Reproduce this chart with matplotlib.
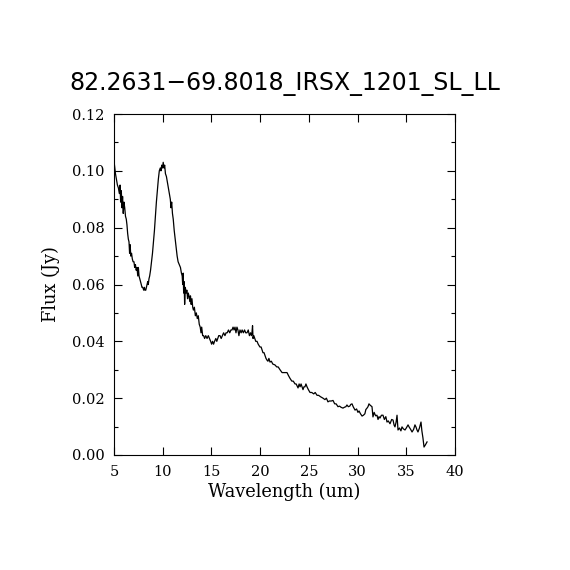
import matplotlib
matplotlib.use("Agg")
import matplotlib.pyplot as plt
from matplotlib.ticker import MultipleLocator

title = "82.2631\u221269.8018_IRSX_1201_SL_LL"
xlabel = "Wavelength (um)"
ylabel = "Flux (Jy)"

wavelength = [
    5.05, 5.15, 5.25, 5.35, 5.45, 5.55, 5.62, 5.68, 5.75, 5.82, 5.88, 5.95, 6.02, 6.10, 6.18,
    6.26, 6.33, 6.40, 6.47, 6.54, 6.60, 6.66, 6.72, 6.80, 6.88, 6.96, 7.05, 7.12, 7.20, 7.28,
    7.36, 7.44, 7.50, 7.57, 7.65, 7.72, 7.80, 7.87, 7.95, 8.05, 8.12, 8.18, 8.26, 8.33, 8.39,
    8.46, 8.52, 8.59, 8.66, 8.75, 8.85, 8.95, 9.05, 9.15, 9.25, 9.35, 9.45, 9.55, 9.65, 9.75,
    9.82, 9.90, 9.98, 10.05, 10.13, 10.20, 10.28, 10.38, 10.48, 10.58, 10.68, 10.78, 10.85,
    10.92, 11.00, 11.08, 11.18, 11.28, 11.38, 11.48, 11.58, 11.70, 11.82, 11.92, 12.00, 12.05,
    12.10, 12.15, 12.20, 12.25, 12.32, 12.40, 12.48, 12.55, 12.62, 12.70, 12.78, 12.85, 12.92,
    13.00, 13.08, 13.15, 13.25, 13.35, 13.45, 13.55, 13.65, 13.75, 13.85, 13.93, 14.00, 14.10,
    14.20, 14.30, 14.42, 14.55, 14.68, 14.80, 14.92, 15.02, 15.12, 15.22, 15.32, 15.45, 15.55,
    15.65, 15.75, 15.88, 16.00, 16.12, 16.25, 16.39, 16.50, 16.62, 16.75, 16.88, 17.00, 17.11,
    17.22, 17.32, 17.42, 17.52, 17.62, 17.72, 17.82, 17.93, 18.05, 18.15, 18.28, 18.40, 18.52,
    18.65, 18.78, 18.90, 19.02, 19.10, 19.16, 19.22, 19.27, 19.35, 19.45, 19.55, 19.68, 19.80,
    19.98, 20.10, 20.20, 20.29, 20.40, 20.50, 20.60, 20.70, 20.80, 20.90, 21.01, 21.15, 21.30,
    21.52, 21.70, 21.85, 22.04, 22.25, 22.45, 22.60, 22.76, 22.90, 23.06, 23.25, 23.40, 23.58,
    23.70, 23.89, 24.00, 24.10, 24.20, 24.30, 24.40, 24.50, 24.60, 24.70, 24.81, 24.95, 25.12,
    25.30, 25.50, 25.65, 25.84, 26.00, 26.20, 26.45, 26.65, 26.80, 26.96, 27.10, 27.30, 27.48,
    27.65, 27.80, 27.99, 28.15, 28.30, 28.50, 28.65, 28.80, 28.91, 29.05, 29.20, 29.30, 29.43,
    29.55, 29.74, 29.90, 30.04, 30.15, 30.30, 30.46, 30.60, 30.75, 30.85, 30.97, 31.07, 31.17,
    31.30, 31.48, 31.58, 31.70, 31.85, 31.99, 32.10, 32.20, 32.30, 32.45, 32.61, 32.75, 32.90,
    33.02, 33.15, 33.33, 33.50, 33.64, 33.75, 33.84, 33.95, 34.05, 34.15, 34.30, 34.45, 34.56,
    34.70, 34.87, 35.00, 35.18, 35.30, 35.45, 35.59, 35.75, 35.89, 36.00, 36.10, 36.20, 36.35,
    36.51, 36.60, 36.71, 36.82, 36.95, 37.13,
]

flux = [
    0.102, 0.099, 0.097, 0.095, 0.094, 0.092, 0.095, 0.089, 0.093, 0.087, 0.091, 0.085, 0.089, 0.087, 0.084,
    0.083, 0.081, 0.078, 0.076, 0.075, 0.071, 0.074, 0.070, 0.071, 0.069, 0.068, 0.068, 0.066, 0.067, 0.065,
    0.066, 0.063, 0.066, 0.063, 0.062, 0.061, 0.060, 0.059, 0.059, 0.058, 0.059, 0.058, 0.058, 0.059, 0.060,
    0.061, 0.060, 0.062, 0.063, 0.065, 0.068, 0.071, 0.075, 0.079, 0.084, 0.089, 0.093, 0.097, 0.100, 0.101,
    0.100, 0.102, 0.101, 0.103, 0.101, 0.102, 0.099, 0.098, 0.096, 0.094, 0.092, 0.090, 0.087,
    0.089, 0.085, 0.083, 0.079, 0.076, 0.073, 0.070, 0.068, 0.067, 0.066, 0.064, 0.063, 0.060,
    0.064, 0.057, 0.061, 0.053, 0.059, 0.057, 0.058, 0.055, 0.057, 0.056, 0.054, 0.056, 0.053,
    0.055, 0.052, 0.051, 0.052, 0.049, 0.050, 0.048, 0.049, 0.046, 0.045, 0.043, 0.045, 0.042,
    0.042, 0.041, 0.042, 0.041, 0.042, 0.041, 0.040, 0.039, 0.040, 0.039, 0.040, 0.041, 0.040,
    0.041, 0.042, 0.042, 0.041, 0.042, 0.043, 0.042, 0.043, 0.043, 0.044, 0.043, 0.044, 0.044,
    0.045, 0.044, 0.045, 0.043, 0.045, 0.044, 0.042, 0.044, 0.043, 0.044, 0.043, 0.044, 0.043,
    0.043, 0.044, 0.042, 0.043, 0.042, 0.043, 0.0455, 0.041, 0.042, 0.041, 0.040, 0.040, 0.039,
    0.038, 0.038, 0.037, 0.036, 0.036, 0.035, 0.034, 0.0334, 0.033, 0.034, 0.0327, 0.033, 0.032,
    0.0317, 0.031, 0.031, 0.030, 0.029, 0.029, 0.029, 0.029, 0.028, 0.027, 0.026, 0.026, 0.025,
    0.025, 0.0236, 0.025, 0.024, 0.025, 0.024, 0.023, 0.024, 0.024, 0.025, 0.024, 0.023, 0.022,
    0.022, 0.0215, 0.022, 0.021, 0.021, 0.0205, 0.020, 0.0195, 0.020, 0.0187, 0.019, 0.019, 0.0192,
    0.018, 0.018, 0.017, 0.0172, 0.0168, 0.0165, 0.0168, 0.017, 0.0176, 0.017, 0.0172, 0.0178, 0.018,
    0.017, 0.0158, 0.0162, 0.015, 0.0155, 0.0145, 0.0137, 0.014, 0.0145, 0.016, 0.0165, 0.017, 0.018,
    0.0175, 0.017, 0.0134, 0.015, 0.0138, 0.014, 0.0125, 0.0135, 0.013, 0.014, 0.014, 0.0125, 0.0135,
    0.0116, 0.012, 0.011, 0.0125, 0.0123, 0.0105, 0.0099, 0.0115, 0.014, 0.0088, 0.0095, 0.0085, 0.0099,
    0.0092, 0.0088, 0.0095, 0.0106, 0.0098, 0.009, 0.0081, 0.009, 0.0106, 0.0098, 0.0088, 0.0081, 0.0095,
    0.0116, 0.0085, 0.006, 0.0028, 0.0035, 0.0046,
]

x_ticks = [5, 10, 15, 20, 25, 30, 35, 40]
y_ticks = [0.00, 0.02, 0.04, 0.06, 0.08, 0.10, 0.12]

serif = "DejaVu Serif"

fig = plt.figure(figsize=(5.7, 5.7), dpi=100)
ax = fig.add_axes([114 / 570, 115 / 570, 341 / 570, 341 / 570])
ax.plot(wavelength, flux, color="black", lw=0.9)
ax.set_xlim(5, 40)
ax.set_ylim(0, 0.12)
ax.set_xticks(x_ticks)
ax.set_yticks(y_ticks)
ax.set_xticklabels([str(t) for t in x_ticks])
ax.set_yticklabels([f"{t:.2f}" for t in y_ticks])
ax.yaxis.set_minor_locator(MultipleLocator(0.01))
ax.tick_params(axis="both", which="major", direction="in", length=6, width=0.8,
               top=True, right=True, labelsize=10.5, pad=7)
ax.tick_params(axis="y", which="minor", direction="in", length=3, width=0.8,
               left=True, right=True)
for lab in ax.get_xticklabels() + ax.get_yticklabels():
    lab.set_fontfamily(serif)
for sp in ax.spines.values():
    sp.set_linewidth(0.8)

ax.set_xlabel(xlabel, fontfamily=serif, fontsize=12.8, labelpad=3)
ax.set_ylabel(ylabel, fontfamily=serif, fontsize=12.8, labelpad=8)
fig.text(0.5, 1 - 84 / 570, title, ha="center", va="center", fontsize=17,
         fontfamily="DejaVu Sans")

fig.savefig("out.png", dpi=100, facecolor="white")
